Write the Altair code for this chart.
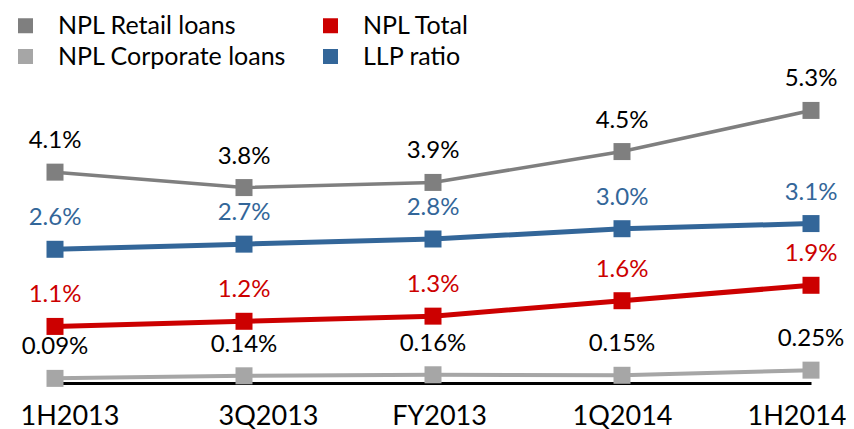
import altair as alt
import pandas as pd

periods = ["1H2013", "3Q2013", "FY2013", "1Q2014", "1H2014"]
series_names = ["NPL Retail loans", "NPL Corporate loans", "NPL Total", "LLP ratio"]
retail = [4.1, 3.8, 3.9, 4.5, 5.3]
corporate = [0.09, 0.14, 0.16, 0.15, 0.25]
total = [1.1, 1.2, 1.3, 1.6, 1.9]
llp = [2.6, 2.7, 2.8, 3.0, 3.1]
decimals = {"NPL Retail loans": 1, "NPL Total": 1, "NPL Corporate loans": 2, "LLP ratio": 1}

colors = ["#7f7f7f", "#a6a6a6", "#cc0000", "#336699"]
label_colors = ["black", "black", "#cc0000", "#336699"]
widths = [3.5, 4, 5, 5]

rows = []
for name, vals in zip(series_names, [retail, corporate, total, llp]):
    for p, v in zip(periods, vals):
        rows.append({"period": p, "series": name, "value": v,
                     "label": f"{v:.{decimals[name]}f}%"})
df = pd.DataFrame(rows)

FONT = "Lato"
x = alt.X("period:N", sort=periods,
          scale=alt.Scale(type="point", padding=0),
          axis=alt.Axis(title=None, ticks=False, labelAngle=0, labelFontSize=27,
                        labelFont=FONT, labelColor="black", labelPadding=20,
                        labelFlush=True, labelFlushOffset=35,
                        labelOffset=alt.ExprRef(
                            "datum.value == '3Q2013' ? 24 : (datum.value == 'FY2013' ? 6 : 0)"),
                        domainColor="black", domainWidth=3, grid=False))
y = alt.Y("value:Q", scale=alt.Scale(domain=[0, 7], nice=False, zero=True), axis=None)

base = alt.Chart(df)

line_layers = []
label_layers = []
for name, col, w, lcol in zip(series_names, colors, widths, label_colors):
    sub = base.transform_filter(alt.datum.series == name)
    line_layers.append(sub.mark_line(color=col, strokeWidth=w).encode(x=x, y=y))
    label_layers.append(
        sub.mark_text(dy=-31, fontSize=24, font=FONT, color=lcol).encode(x=x, y=y, text="label:N")
    )

squares = base.mark_square(size=289, filled=True, opacity=1).encode(
    x=x, y=y,
    color=alt.Color("series:N", scale=alt.Scale(domain=series_names, range=colors),
                    legend=alt.Legend(title=None, orient="none", legendX=-42, legendY=-10,
                                      columns=2, symbolType="square", symbolSize=225,
                                      labelFontSize=25, labelFont=FONT,
                                      labelColor="black", labelOffset=20, rowPadding=5,
                                      columnPadding=31, labelLimit=400)),
)

chart = alt.layer(*line_layers, squares, *label_layers).properties(
    width=756, height=360,
    autosize=alt.AutoSizeParams(type="none"),
    padding={"left": 47, "top": 15, "right": 35, "bottom": 46},
).configure_view(stroke=None)

chart.save("out.html", embed_options={"renderer": "svg", "actions": False})
